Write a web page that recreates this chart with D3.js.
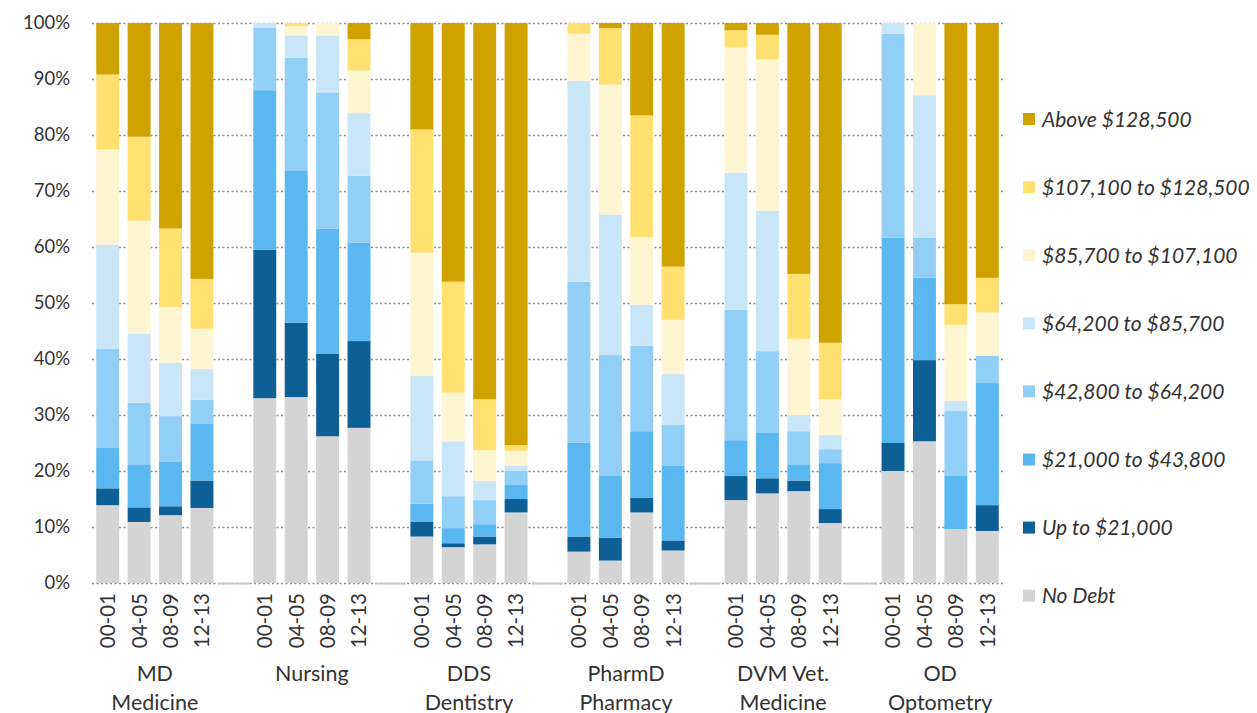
<!DOCTYPE html>
<html>
<head>
<meta charset="utf-8">
<script src="https://cdn.jsdelivr.net/npm/d3@7"></script>
<style>
  body { margin: 0; background: #fff; }
  text { font-family: Lato, "Open Sans", sans-serif; fill: #333; }
</style>
</head>
<body>
<div id="chart"></div>
<script>
var programs = ['MD|Medicine', 'Nursing', 'DDS|Dentistry', 'PharmD|Pharmacy', 'DVM Vet.|Medicine', 'OD|Optometry']
var years = ['00-01', '04-05', '08-09', '12-13']

var seriesNames = ['No Debt', 'Up to $21,000', '$21,000 to $43,800', '$42,800 to $64,200',
    '$64,200 to $85,700', '$85,700 to $107,100', '$107,100 to $128,500', 'Above $128,500']
var seriesColors = ['#d4d4d4', '#0d5f95', '#5bb7f0', '#92cff7', '#c9e6f9', '#fff5d3', '#ffe070', '#cfa200']

// % of graduates, 24 bars: MD, Nursing, DDS, PharmD, DVM, OD x 4 years
var noDebt = [13.9, 10.9, 12.1, 13.4, 33.0, 33.2, 26.2, 27.7, 8.3, 6.4, 6.9, 12.6, 5.6, 4.0, 12.6, 5.8, 14.8, 16.0, 16.4, 10.7, 20.0, 25.3, 9.6, 9.3]
var upTo21 = [3.0, 2.6, 1.6, 4.9, 26.5, 13.3, 14.7, 15.5, 2.6, 0.7, 1.4, 2.4, 2.7, 4.1, 2.6, 1.8, 4.3, 2.7, 1.9, 2.5, 5.0, 14.5, 0, 4.6]
var from21 = [7.2, 7.7, 7.9, 10.1, 28.5, 27.2, 22.4, 17.6, 3.3, 2.7, 2.2, 2.5, 16.8, 11.0, 11.9, 13.4, 6.4, 8.2, 2.9, 8.2, 36.7, 14.7, 9.5, 21.8]
var from42 = [17.7, 11.0, 8.2, 4.3, 11.1, 20.1, 24.3, 11.9, 7.7, 5.7, 4.3, 2.5, 28.7, 21.6, 15.3, 7.2, 23.3, 14.5, 5.9, 2.5, 36.4, 7.2, 11.6, 4.9]
var from64 = [18.6, 12.3, 9.5, 5.5, 0.9, 4.0, 10.2, 11.2, 15.1, 9.8, 3.4, 1.0, 35.9, 25.1, 7.3, 9.1, 24.5, 25.1, 2.9, 2.5, 1.9, 25.4, 1.8, 0]
var from85 = [17.0, 20.2, 10.0, 7.2, 0, 1.6, 2.2, 7.6, 22.0, 8.7, 5.5, 2.6, 8.4, 23.2, 12.1, 9.7, 22.3, 27.0, 13.6, 6.4, 0, 12.9, 13.6, 7.7]
var from107 = [13.4, 15.0, 14.0, 8.9, 0, 0.6, 0, 5.6, 22.0, 19.8, 9.1, 1.0, 1.9, 10.1, 21.7, 9.5, 3.1, 4.4, 11.6, 10.1, 0, 0, 3.7, 6.2]
var above128 = [9.2, 20.3, 36.7, 45.7, 0, 0, 0, 2.9, 19.0, 46.2, 67.2, 75.4, 0, 0.9, 16.5, 43.5, 1.3, 2.1, 44.8, 57.1, 0, 0, 50.2, 45.5]

var yTicks = [0, 0.1, 0.2, 0.3, 0.4, 0.5, 0.6, 0.7, 0.8, 0.9, 1]

var allSeries = [noDebt, upTo21, from21, from42, from64, from85, from107, above128]

var width = 1257, height = 713,
    plot = {left: 92, right: 1003, top: 23, bottom: 583}

// slots: 4 bars per program plus an empty slot between programs
var slots = []
programs.forEach(function(p, gi) {
    years.forEach(function(y) { slots.push({key: gi + '|' + y, group: gi, year: y}) })
    if (gi < programs.length - 1) slots.push({key: 'gap' + gi, gap: true})
})

var rows = []
var bi = 0
slots.forEach(function(s) {
    if (s.gap) return
    var row = {key: s.key}
    seriesNames.forEach(function(n, si) { row[n] = allSeries[si][bi] })
    rows.push(row)
    bi++
})

var x = d3.scaleBand()
    .domain(slots.map(function(s) { return s.key }))
    .range([plot.left, plot.right])
    .paddingInner(0.27)
    .paddingOuter(0.135)

var y = d3.scaleLinear().domain([0, 1]).range([plot.bottom, plot.top])

var stack = d3.stack().keys(seriesNames).offset(d3.stackOffsetExpand)
var layers = stack(rows)

var svg = d3.select('#chart').append('svg')
    .attr('width', width)
    .attr('height', height)

// gridlines
svg.append('g').selectAll('line')
    .data(yTicks)
    .join('line')
    .attr('x1', plot.left)
    .attr('x2', plot.right)
    .attr('y1', function(d) { return Math.round(y(d)) + 0.5 })
    .attr('y2', function(d) { return Math.round(y(d)) + 0.5 })
    .attr('stroke', '#8c8c8c')
    .attr('stroke-width', 1.3)
    .attr('stroke-dasharray', '2,2.5')

// y labels
svg.append('g').selectAll('text')
    .data(yTicks)
    .join('text')
    .attr('x', 70)
    .attr('y', function(d) { return y(d) })
    .attr('dy', '0.35em')
    .attr('text-anchor', 'end')
    .style('font-size', '18.5px')
    .text(d3.format('.0%'))

// gap markers on the baseline
svg.append('g').selectAll('line')
    .data(slots.filter(function(s) { return s.gap }))
    .join('line')
    .attr('x1', function(d) { return x(d.key) - 4 })
    .attr('x2', function(d) { return x(d.key) + x.bandwidth() + 4 })
    .attr('y1', y(0) + 0.5)
    .attr('y2', y(0) + 0.5)
    .attr('stroke', '#c8c8c8')
    .attr('stroke-width', 2)

// bars
svg.append('g').selectAll('g')
    .data(layers)
    .join('g')
    .attr('fill', function(d, i) { return seriesColors[i] })
    .selectAll('rect')
    .data(function(d) { return d })
    .join('rect')
    .attr('x', function(d) { return x(d.data.key) })
    .attr('width', x.bandwidth())
    .attr('y', function(d) { return y(d[1]) })
    .attr('height', function(d) { return Math.max(0, y(d[0]) - y(d[1])) })

// year labels
var bars = slots.filter(function(s) { return !s.gap })
svg.append('g').selectAll('text')
    .data(bars)
    .join('text')
    .attr('transform', function(d) {
        return 'translate(' + (x(d.key) + x.bandwidth() / 2) + ',593) rotate(-90)'
    })
    .attr('dy', '0.36em')
    .attr('text-anchor', 'end')
    .style('font-size', '20.5px')
    .text(function(d) { return d.year })

// program labels
var groupLabels = svg.append('g').selectAll('text')
    .data(programs)
    .join('text')
    .attr('text-anchor', 'middle')
    .attr('x', function(d, gi) {
        var a = x(gi + '|' + years[0]), b = x(gi + '|' + years[years.length - 1]) + x.bandwidth()
        return (a + b) / 2
    })
    .style('font-size', '21.5px')
groupLabels.selectAll('tspan')
    .data(function(d) { return d.split('|') })
    .join('tspan')
    .attr('x', function() { return d3.select(this.parentNode).attr('x') })
    .attr('y', function(d, i) { return 681 + i * 28.5 })
    .text(function(d) { return d })

// legend
var legend = svg.append('g').selectAll('g')
    .data(seriesNames.slice().reverse())
    .join('g')
    .attr('transform', function(d, i) { return 'translate(1023,' + (119 + i * 68.1) + ')' })
legend.append('rect')
    .attr('x', 0)
    .attr('y', -6)
    .attr('width', 12)
    .attr('height', 12)
    .attr('fill', function(d) { return seriesColors[seriesNames.indexOf(d)] })
legend.append('text')
    .attr('x', 19)
    .attr('dy', '0.36em')
    .style('font-size', '21px')
    .style('font-style', 'italic')
    .text(function(d) { return d })
</script>
</body>
</html>
